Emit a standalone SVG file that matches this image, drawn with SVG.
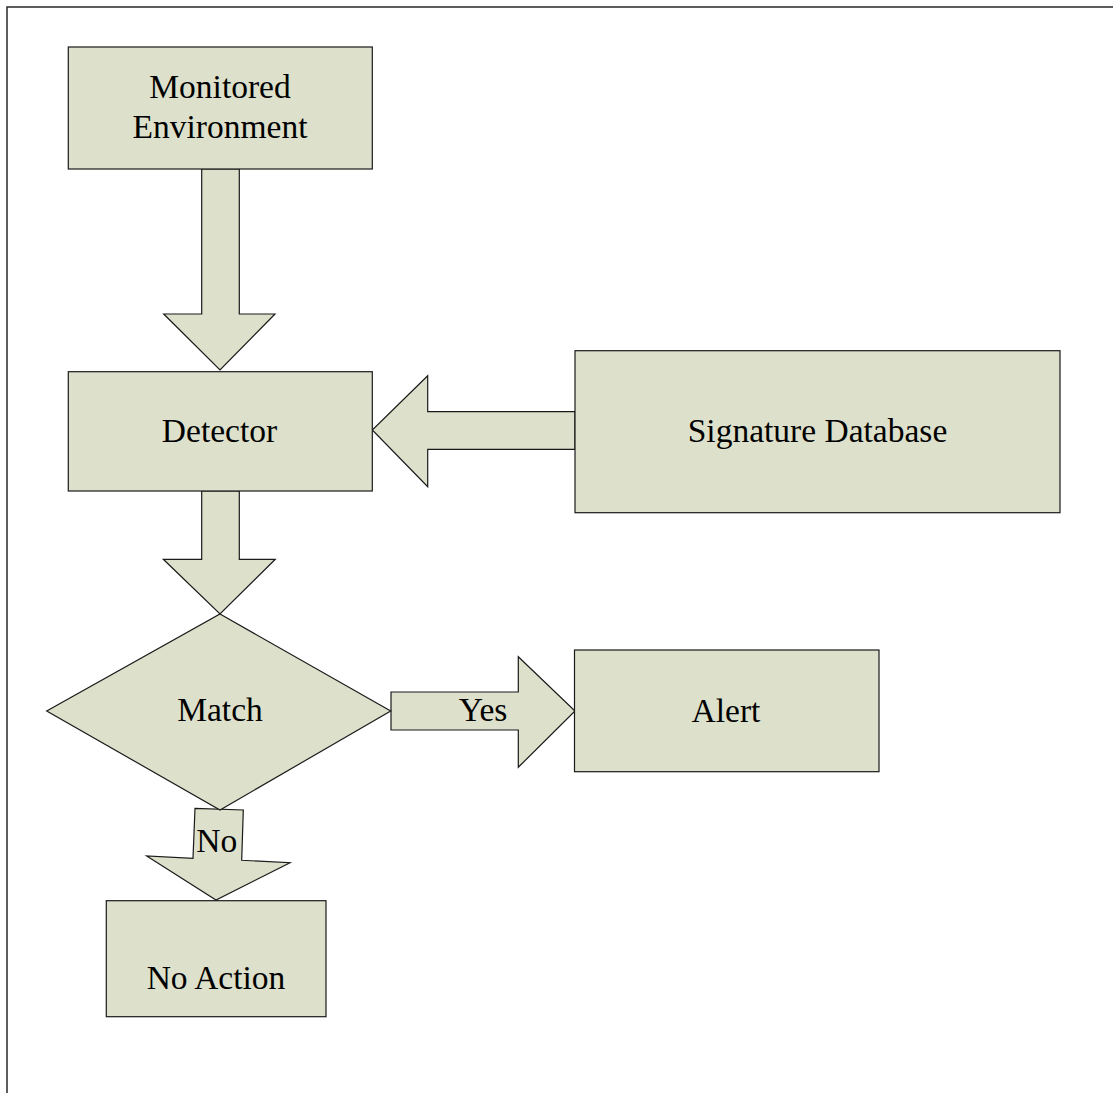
<svg xmlns="http://www.w3.org/2000/svg" width="1113" height="1093" viewBox="0 0 1113 1093">
  <style>
    .shape { fill: #dde0ca; stroke: #1a1a1a; stroke-width: 1.2; stroke-linejoin: miter; }
    .label { font-family: "Liberation Serif", "Times New Roman", serif; font-size: 33.5px; fill: #000; text-anchor: middle; }
    .frame { fill: none; stroke: #2a2a2a; stroke-width: 1.5; }
  </style>
  <rect width="1113" height="1093" fill="#fff"/>
  <!-- page frame: top and left edges only -->
  <path class="frame" d="M7,1093 V7 H1113"/>

  <!-- block arrows between the stages -->
  <g id="connectors">
    <polygon class="shape" points="201.7,169 239.3,169 239.3,314 275,314 220,370 163.7,314 201.7,314"/>
    <polygon class="shape" points="575,411.7 427.7,411.7 427.7,375.7 372.3,430 427.7,486.7 427.7,449.3 575,449.3"/>
    <polygon class="shape" points="201.7,491 239.3,491 239.3,559.3 275.3,559.3 220,614 163.3,559.3 201.7,559.3"/>
    <polygon class="shape" points="391,692 518.3,692 518.3,656.7 575,711 518.3,767.3 518.3,730 391,730"/>
    <polygon class="shape" points="195,808.3 243.3,810 241.7,860.3 290,862.7 216,900 146.7,856 193,858.3"/>
    <text class="label" x="483" y="721">Yes</text>
    <text class="label" x="216.7" y="852">No</text>
  </g>

  <g id="monitored-environment">
    <rect class="shape" x="68.3" y="47" width="304" height="122"/>
    <text class="label" x="220" y="98.3">Monitored</text>
    <text class="label" x="220" y="137.7">Environment</text>
  </g>

  <g id="detector">
    <rect class="shape" x="68.3" y="371.7" width="304" height="119.3"/>
    <text class="label" x="219.5" y="441.7">Detector</text>
  </g>

  <g id="signature-database">
    <rect class="shape" x="575" y="350.7" width="485" height="162"/>
    <text class="label" x="817.5" y="441.7">Signature Database</text>
  </g>

  <g id="match">
    <polygon class="shape" points="220,614 390.7,711 220,810 46.7,711"/>
    <text class="label" x="220" y="721">Match</text>
  </g>

  <g id="alert">
    <rect class="shape" x="574.5" y="650" width="304.5" height="121.7"/>
    <text class="label" x="726" y="721.7">Alert</text>
  </g>

  <g id="no-action">
    <rect class="shape" x="106.3" y="900.7" width="219.7" height="116"/>
    <text class="label" x="216" y="989">No Action</text>
  </g>
</svg>
